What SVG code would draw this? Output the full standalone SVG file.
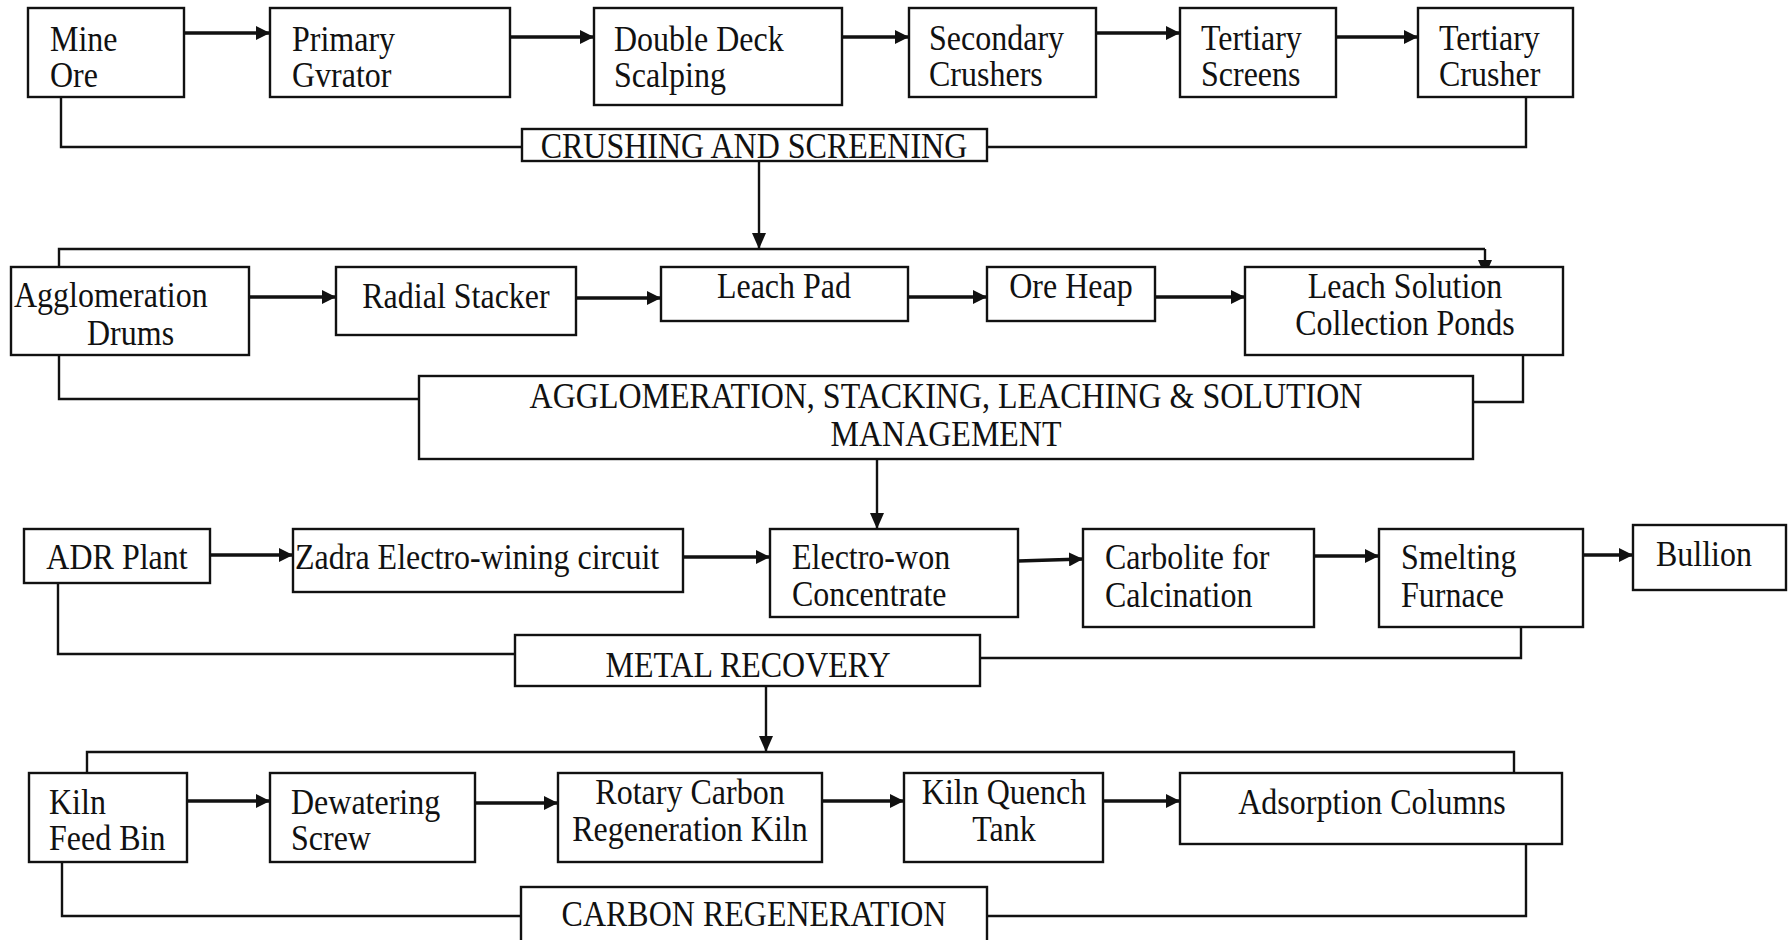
<svg xmlns="http://www.w3.org/2000/svg" width="1790" height="940" viewBox="0 0 1790 940">
<defs>
<marker id="ah" markerUnits="userSpaceOnUse" markerWidth="16" markerHeight="14" refX="14" refY="7" orient="auto"><path d="M0,0 L14,7 L0,14 Z" fill="#111"/></marker>
<marker id="av" markerUnits="userSpaceOnUse" markerWidth="16" markerHeight="16" refX="16" refY="7" orient="auto"><path d="M0,0 L16,7 L0,14 Z" fill="#111"/></marker>
</defs>
<style>
rect{fill:#fff;stroke:#111;stroke-width:2.4}
text{font-family:"Liberation Serif","Times New Roman",serif;font-size:32px;fill:#111;transform-box:fill-box;transform-origin:50% 50%;transform:scaleY(1.12)}
.c{text-anchor:middle}
.flow{fill:none;stroke:#111;stroke-width:3.4;marker-end:url(#ah)}
.down{fill:none;stroke:#111;stroke-width:2.4;marker-end:url(#av)}
.link{fill:none;stroke:#111;stroke-width:2.4}
</style>
<rect x="0" y="0" width="1790" height="940" style="fill:#fff;stroke:none"/>
<g id="connectors">
<!-- row 1 -->
<path class="flow" d="M184,33 H270"/>
<path class="flow" d="M510,37 H594"/>
<path class="flow" d="M842,37 H909"/>
<path class="flow" d="M1096,33 H1180"/>
<path class="flow" d="M1336,37 H1418"/>
<path class="link" d="M61,97 V147 H522"/>
<path class="link" d="M987,147 H1526 V97"/>
<path class="down" d="M759,161 V249"/>
<!-- row 2 -->
<path class="link" d="M59,267 V249 H1485"/>
<path class="down" d="M1485,249 V276"/>
<path class="flow" d="M249,297 H336"/>
<path class="flow" d="M576,298 H661"/>
<path class="flow" d="M908,297 H987"/>
<path class="flow" d="M1155,297 H1245"/>
<path class="link" d="M59,355 V399 H419"/>
<path class="link" d="M1473,402 H1523 V355"/>
<path class="down" d="M877,459 V529"/>
<!-- row 3 -->
<path class="flow" d="M210,555 H293"/>
<path class="flow" d="M683,557 H770"/>
<path class="flow" d="M1018,561 L1083,559"/>
<path class="flow" d="M1314,556 H1379"/>
<path class="flow" d="M1583,555 H1633"/>
<path class="link" d="M58,583 V654 H515"/>
<path class="link" d="M980,658 H1521 V627"/>
<path class="down" d="M766,686 V752"/>
<!-- row 4 -->
<path class="link" d="M87,773 V752 H1514 V773"/>
<path class="flow" d="M187,801 H270"/>
<path class="flow" d="M475,803 H558"/>
<path class="flow" d="M822,801 H904"/>
<path class="flow" d="M1103,801 H1180"/>
<path class="link" d="M62,862 V916 H521"/>
<path class="link" d="M987,916 H1526 V844"/>
</g>
<g id="mine-ore"><rect x="28" y="8" width="156" height="89"/><text x="50" y="50">Mine</text><text x="50" y="86">Ore</text></g>
<g id="primary-gyrator"><rect x="270" y="8" width="240" height="89"/><text x="292" y="50">Primary</text><text x="292" y="86">Gvrator</text></g>
<g id="double-deck"><rect x="594" y="8" width="248" height="97"/><text x="614" y="50">Double Deck</text><text x="614" y="86">Scalping</text></g>
<g id="secondary-crushers"><rect x="909" y="8" width="187" height="89"/><text x="929" y="49">Secondary</text><text x="929" y="85">Crushers</text></g>
<g id="tertiary-screens"><rect x="1180" y="8" width="156" height="89"/><text x="1201" y="49">Tertiary</text><text x="1201" y="85">Screens</text></g>
<g id="tertiary-crusher"><rect x="1418" y="8" width="155" height="89"/><text x="1439" y="49">Tertiary</text><text x="1439" y="85">Crusher</text></g>
<g id="crushing-screening"><rect x="522" y="129" width="465" height="32"/><text class="c" x="754" y="157">CRUSHING AND SCREENING</text></g>

<g id="agglomeration-drums"><rect x="11" y="267" width="238" height="88"/><text x="14" y="306">Agglomeration</text><text x="87" y="344">Drums</text></g>
<g id="radial-stacker"><rect x="336" y="267" width="240" height="68"/><text class="c" x="456" y="307">Radial Stacker</text></g>
<g id="leach-pad"><rect x="661" y="267" width="247" height="54"/><text class="c" x="784" y="297">Leach Pad</text></g>
<g id="ore-heap"><rect x="987" y="267" width="168" height="54"/><text class="c" x="1071" y="297">Ore Heap</text></g>
<g id="leach-solution"><rect x="1245" y="267" width="318" height="88"/><text class="c" x="1405" y="297">Leach Solution</text><text class="c" x="1405" y="334">Collection Ponds</text></g>
<g id="agglomeration-management"><rect x="419" y="376" width="1054" height="83"/><text class="c" x="946" y="407">AGGLOMERATION, STACKING, LEACHING &amp; SOLUTION</text><text class="c" x="946" y="445">MANAGEMENT</text></g>

<g id="adr-plant"><rect x="24" y="529" width="186" height="54"/><text class="c" x="117" y="568">ADR Plant</text></g>
<g id="zadra"><rect x="293" y="529" width="390" height="63"/><text x="295" y="568">Zadra Electro-wining circuit</text></g>
<g id="electro-won"><rect x="770" y="529" width="248" height="88"/><text x="792" y="568">Electro-won</text><text x="792" y="605">Concentrate</text></g>
<g id="carbolite"><rect x="1083" y="529" width="231" height="98"/><text x="1105" y="568">Carbolite for</text><text x="1105" y="606">Calcination</text></g>
<g id="smelting-furnace"><rect x="1379" y="529" width="204" height="98"/><text x="1401" y="568">Smelting</text><text x="1401" y="606">Furnace</text></g>
<g id="bullion"><rect x="1633" y="525" width="153" height="65"/><text x="1656" y="565">Bullion</text></g>
<g id="metal-recovery"><rect x="515" y="635" width="465" height="51"/><text class="c" x="748" y="676">METAL RECOVERY</text></g>

<g id="kiln-feed-bin"><rect x="29" y="773" width="158" height="89"/><text x="49" y="813">Kiln</text><text x="49" y="849">Feed Bin</text></g>
<g id="dewatering-screw"><rect x="270" y="773" width="205" height="89"/><text x="291" y="813">Dewatering</text><text x="291" y="849">Screw</text></g>
<g id="rotary-kiln"><rect x="558" y="773" width="264" height="89"/><text class="c" x="690" y="803">Rotary Carbon</text><text class="c" x="690" y="840">Regeneration Kiln</text></g>
<g id="kiln-quench"><rect x="904" y="773" width="199" height="89"/><text class="c" x="1004" y="803">Kiln Quench</text><text class="c" x="1004" y="840">Tank</text></g>
<g id="adsorption-columns"><rect x="1180" y="773" width="382" height="71"/><text class="c" x="1372" y="813">Adsorption Columns</text></g>
<g id="carbon-regeneration"><rect x="521" y="887" width="466" height="60"/><text class="c" x="754" y="925">CARBON REGENERATION</text></g>
</svg>
